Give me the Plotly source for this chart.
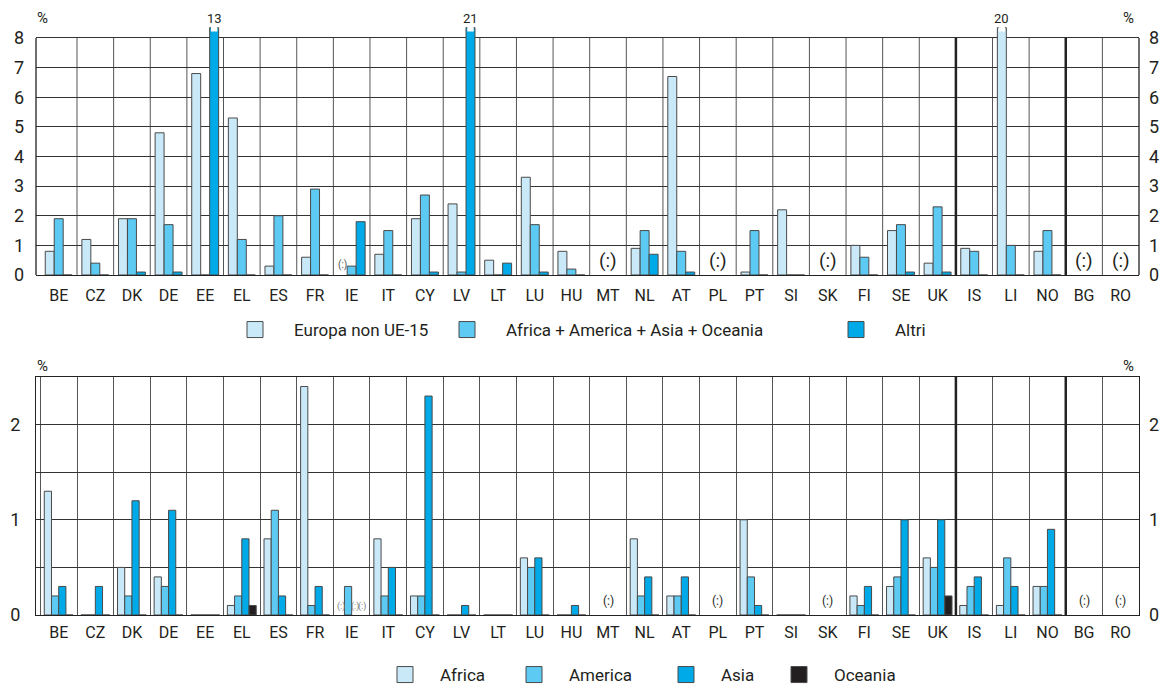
import plotly.graph_objects as go

countries = ["BE", "CZ", "DK", "DE", "EE", "EL", "ES", "FR", "IE", "IT", "CY", "LV", "LT", "LU",
             "HU", "MT", "NL", "AT", "PL", "PT", "SI", "SK", "FI", "SE", "UK", "IS", "LI", "NO",
             "BG", "RO"]

# Top chart (%), None = not available "(:)"
europa_non_ue15 = [0.8, 1.2, 1.9, 4.8, 6.8, 5.3, 0.3, 0.6, None, 0.7, 1.9, 2.4, 0.5, 3.3,
                   0.8, None, 0.9, 6.7, None, 0.1, 2.2, None, 1.0, 1.5, 0.4, 0.9, 20, 0.8,
                   None, None]
extra_continenti = [1.9, 0.4, 1.9, 1.7, 0, 1.2, 2.0, 2.9, 0.3, 1.5, 2.7, 0.1, 0, 1.7,
                    0.2, None, 1.5, 0.8, None, 1.5, 0, None, 0.6, 1.7, 2.3, 0.8, 1.0, 1.5,
                    None, None]
altri = [0, 0, 0.1, 0.1, 13, 0, 0, 0, 1.8, 0, 0.1, 21, 0.4, 0.1,
         0, None, 0.7, 0.1, None, 0, 0, None, 0, 0.1, 0.1, 0, 0, 0,
         None, None]

# Bottom chart (%)
africa = [1.3, 0, 0.5, 0.4, 0, 0.1, 0.8, 2.4, None, 0.8, 0.2, 0, 0, 0.6,
          0, None, 0.8, 0.2, None, 1.0, 0, None, 0.2, 0.3, 0.6, 0.1, 0.1, 0.3,
          None, None]
america = [0.2, 0, 0.2, 0.3, 0, 0.2, 1.1, 0.1, 0.3, 0.2, 0.2, 0, 0, 0.5,
           0, None, 0.2, 0.2, None, 0.4, 0, None, 0.1, 0.4, 0.5, 0.3, 0.6, 0.3,
           None, None]
asia = [0.3, 0.3, 1.2, 1.1, 0, 0.8, 0.2, 0.3, None, 0.5, 2.3, 0.1, 0, 0.6,
        0.1, None, 0.4, 0.4, None, 0.1, 0, None, 0.3, 1.0, 1.0, 0.4, 0.3, 0.9,
        None, None]
oceania = [0, 0, 0, 0, 0, 0.1, 0, 0, None, 0, 0, 0, 0, 0,
           0, None, 0, 0, None, 0, 0, None, 0, 0, 0.2, 0, 0, 0,
           None, None]

top_names = ["Europa non UE-15", "Africa + America + Asia + Oceania", "Altri"]
bot_names = ["Africa", "America", "Asia", "Oceania"]

C_LIGHT = "#c9e9f9"
C_MED = "#5ccaf2"
C_DARK = "#00a9e7"
C_BLACK = "#231f20"
OUTLINE = "#4a4a4a"
FONT = "Roboto, Liberation Sans, sans-serif"
TXT = "#231f20"

TOP_MAX = 8
TOP_RANGE = 8.5
CAP = 8.35

H = 688.0
PL, PR = 36, 1163 - 24


def py(pix):  # pixel row -> paper fraction
    return (H - pix) / H


def px(pix):  # pixel column -> paper fraction
    return (pix - PL) / (PR - PL)


fig = go.Figure()
annotations = []
shapes = []

top_series = [europa_non_ue15, extra_continenti, altri]
top_colors = [C_LIGHT, C_MED, C_DARK]
w_top = 0.245
for k, (vals, name, col) in enumerate(zip(top_series, top_names, top_colors)):
    shown = [None if v is None else min(v, CAP) for v in vals]
    off = -1.5 * w_top + k * w_top
    fig.add_trace(go.Bar(
        x=countries, y=shown, name=name, xaxis="x", yaxis="y",
        width=w_top, offset=off, marker=dict(color=col, line=dict(color=OUTLINE, width=1)),
        showlegend=False))
    for i, v in enumerate(vals):
        if v is not None and v > TOP_MAX:
            annotations.append(dict(x=i + off + w_top / 2, y=CAP, xref="x", yref="y",
                                    text=str(v), showarrow=False, yanchor="bottom",
                                    font=dict(size=13, color=TXT, family=FONT), yshift=0))
            shapes.append(dict(type="rect", xref="x", yref="y", x0=i + off + 0.035,
                               x1=i + off + w_top - 0.035, y0=8.22, y1=CAP + 0.05,
                               fillcolor="white", line=dict(width=0), layer="above"))
        if v is None and k == 0:
            if all(s[i] is None for s in top_series):
                annotations.append(dict(x=i, y=0.5, xref="x", yref="y", text="(:)", showarrow=False,
                                        font=dict(size=19, color=TXT, family=FONT)))
            else:
                annotations.append(dict(x=i + off + w_top / 2, y=0, xref="x", yref="y", text="(:)",
                                        showarrow=False, yanchor="bottom", yshift=2,
                                        font=dict(size=10, color="#555", family=FONT)))

bot_series = [africa, america, asia, oceania]
bot_colors = [C_LIGHT, C_MED, C_DARK, C_BLACK]
w_bot = 0.197
for k, (vals, name, col) in enumerate(zip(bot_series, bot_names, bot_colors)):
    off = -2 * w_bot + k * w_bot
    fig.add_trace(go.Bar(
        x=countries, y=vals, name=name, xaxis="x2", yaxis="y2",
        width=w_bot, offset=off, marker=dict(color=col, line=dict(color=OUTLINE, width=1)),
        showlegend=False))
for i in range(len(countries)):
    if all(s[i] is None for s in bot_series):
        annotations.append(dict(x=i, y=0, xref="x2", yref="y2", text="(:)", showarrow=False,
                                yanchor="bottom", yshift=5, font=dict(size=12, color=TXT, family=FONT)))
    else:
        for k, s in enumerate(bot_series):
            if s[i] is None:
                off = -2 * w_bot + k * w_bot
                annotations.append(dict(x=i + off + w_bot / 2, y=0, xref="x2", yref="y2", text="(:)",
                                        showarrow=False, yanchor="bottom", yshift=1,
                                        font=dict(size=9, color="#777", family=FONT)))

# legends: one legend box per entry so each swatch sits where the reference has it
top_leg_ids = ["legend", "legend3", "legend4"]
top_sw_x = [247, 459, 848]
bot_leg_ids = ["legend2", "legend5", "legend6", "legend7"]
bot_sw_x = [399, 528, 680, 793]
legend_layout = {}
for name, col, lid, sx in zip(top_names, top_colors, top_leg_ids, top_sw_x):
    fig.add_trace(go.Scatter(x=[countries[0]], y=[-10], xaxis="x", yaxis="y", mode="markers", name=name,
                             marker=dict(symbol="square", size=16, color=col,
                                         line=dict(color=OUTLINE, width=1)),
                             legend=lid, hoverinfo="skip"))
    legend_layout[lid] = dict(orientation="h", x=px(sx - 31), xanchor="left", y=py(330),
                              yanchor="middle", font=dict(size=17, color=TXT, family=FONT),
                              itemwidth=68, bgcolor="rgba(0,0,0,0)", itemsizing="trace")
for name, col, lid, sx in zip(bot_names, bot_colors, bot_leg_ids, bot_sw_x):
    fig.add_trace(go.Scatter(x=[countries[0]], y=[-10], xaxis="x2", yaxis="y2", mode="markers", name=name,
                             marker=dict(symbol="square", size=16, color=col,
                                         line=dict(color=OUTLINE, width=1)),
                             legend=lid, hoverinfo="skip"))
    legend_layout[lid] = dict(orientation="h", x=px(sx - 29), xanchor="left", y=py(675),
                              yanchor="middle", font=dict(size=17, color=TXT, family=FONT),
                              itemwidth=60, bgcolor="rgba(0,0,0,0)", itemsizing="trace")

# invisible traces to render right-side tick labels
fig.add_trace(go.Scatter(x=[countries[0]], y=[0], xaxis="x", yaxis="y3", mode="markers",
                         marker=dict(opacity=0), showlegend=False, hoverinfo="skip"))
fig.add_trace(go.Scatter(x=[countries[0]], y=[0], xaxis="x2", yaxis="y4", mode="markers",
                         marker=dict(opacity=0), showlegend=False, hoverinfo="skip"))

# vertical grid of top chart (category boundaries), limited to the 0-8 band
for b in range(len(countries) - 1):
    shapes.append(dict(type="line", xref="x", yref="y", x0=b + 0.5, x1=b + 0.5, y0=0, y1=TOP_MAX,
                       line=dict(color="#555", width=1), layer="below"))
# borders of top chart
for xd in [0, 1]:
    shapes.append(dict(type="line", xref="x domain", yref="y", x0=xd, x1=xd, y0=0, y1=TOP_MAX,
                       line=dict(color="#222", width=1.3)))
# thick separators (after UK and after NO)
for sep in [24.5, 27.5]:
    shapes.append(dict(type="line", xref="x", yref="y", x0=sep, x1=sep, y0=0, y1=TOP_MAX,
                       line=dict(color="#222", width=2.5)))
    shapes.append(dict(type="line", xref="x2", yref="y2 domain", x0=sep, x1=sep, y0=0, y1=1,
                       line=dict(color="#222", width=2.5)))

pct_font = dict(size=15, color=TXT, family=FONT)
for xx, yy in [(42, 18), (1128, 18), (42, 366), (1128, 366)]:
    annotations.append(dict(x=px(xx), y=py(yy), xref="paper", yref="paper", text="%",
                            showarrow=False, xanchor="center", yanchor="middle", font=pct_font))

xcommon = dict(type="category", categoryorder="array", categoryarray=countries,
               range=[-0.62, 29.5], tickson="boundaries", ticks="",
               gridcolor="#555", gridwidth=1, showline=True, linecolor="#222", linewidth=1.3,
               tickfont=dict(size=16, color=TXT, family=FONT), zeroline=False)
tickf = dict(size=18, color=TXT, family=FONT)

fig.update_layout(
    width=1163, height=688,
    margin=dict(l=PL, r=24, t=0, b=0, autoexpand=False),
    paper_bgcolor="white", plot_bgcolor="white",
    barmode="overlay",
    font=dict(family=FONT, color=TXT),
    xaxis=dict(**xcommon, anchor="y", domain=[0, 1], mirror=False, showgrid=False,
               ticklabelstandoff=6),
    xaxis2=dict(**xcommon, anchor="y2", domain=[0, 1], mirror=True, showgrid=True,
                ticklabelstandoff=3),
    yaxis=dict(domain=[py(275), py(275 - TOP_RANGE * (275 - 38) / 8)], range=[0, TOP_RANGE],
               tickvals=list(range(0, 9)), showgrid=True, gridcolor="#333", gridwidth=1,
               zeroline=False, showline=False, ticks="", tickfont=tickf, anchor="x",
               ticklabelstandoff=11),
    yaxis3=dict(overlaying="y", side="right", range=[0, TOP_RANGE], tickvals=list(range(0, 9)),
                showgrid=False, zeroline=False, ticks="", tickfont=tickf, anchor="x",
                showline=False, ticklabelstandoff=9),
    yaxis2=dict(domain=[py(615), py(377)], range=[0, 2.5], tickvals=[0, 0.5, 1, 1.5, 2],
                ticktext=["0", "", "1", "", "2"], showgrid=True, gridcolor="#333",
                gridwidth=1, zeroline=False, showline=True, linecolor="#222", linewidth=1.3,
                mirror=True, ticks="", tickfont=tickf, anchor="x2", ticklabelstandoff=11),
    yaxis4=dict(overlaying="y2", side="right", range=[0, 2.5], tickvals=[0, 0.5, 1, 1.5, 2],
                ticktext=["0", "", "1", "", "2"], showgrid=False, zeroline=False, ticks="",
                tickfont=tickf, anchor="x2", showline=False, ticklabelstandoff=9),
    annotations=annotations,
    shapes=shapes,
    showlegend=True,
    **legend_layout,
)

fig.write_html("out.html", config={"displayModeBar": False},
               post_script="document.body.style.margin='0';document.body.style.overflow='hidden';")
